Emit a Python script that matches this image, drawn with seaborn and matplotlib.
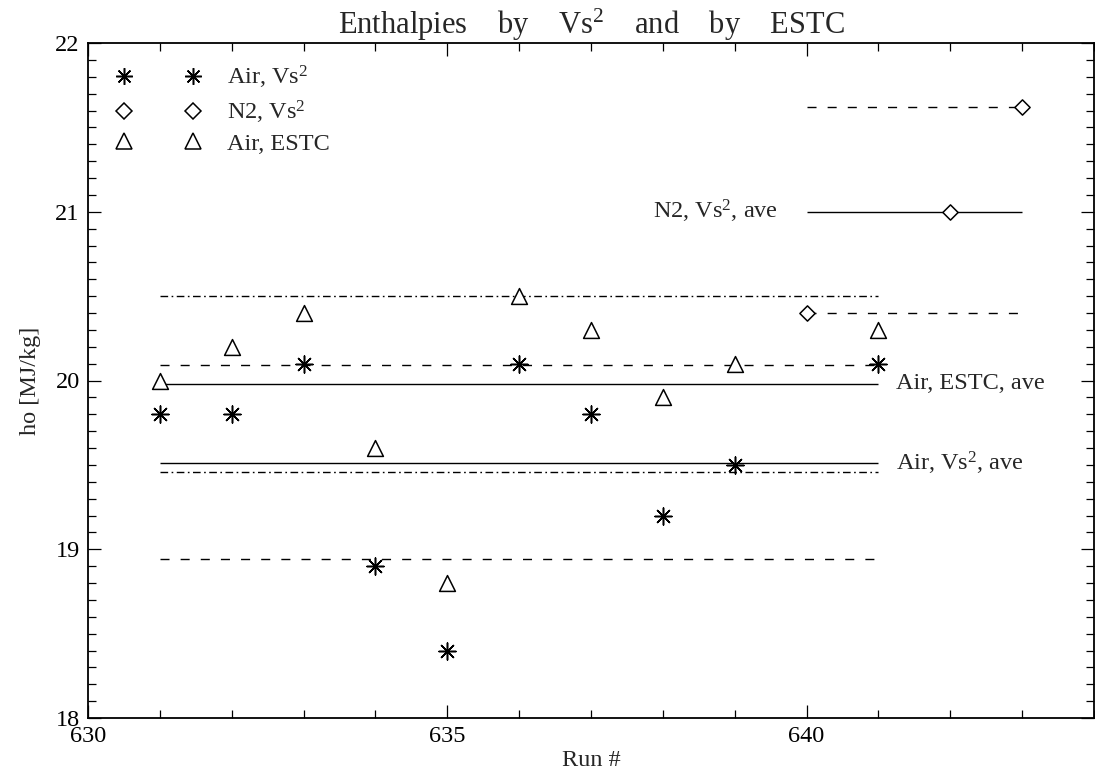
import numpy as np
import pandas as pd
import matplotlib
matplotlib.use('Agg')
import matplotlib.pyplot as plt
import seaborn as sns
from matplotlib.lines import Line2D
from matplotlib.ticker import MultipleLocator, FixedLocator

# ---------------- data ----------------
runs_air = [631, 632, 633, 634, 635, 636, 637, 638, 639, 641]
air_vs2 = [19.8, 19.8, 20.1, 18.9, 18.4, 20.1, 19.8, 19.2, 19.5, 20.1]
air_estc = [20.0, 20.2, 20.4, 19.6, 18.8, 20.5, 20.3, 19.9, 20.1, 20.3]
runs_n2 = [640, 642, 643]
n2_vs2 = [20.4, 21.0, 21.62]

air_vs2_ave = 19.51
air_vs2_band = [18.94, 20.09]
air_estc_ave = 19.98
air_estc_band = [19.46, 20.50]
n2_ave = 21.0
n2_band = [20.40, 21.62]
air_span = [631, 641]
n2_span = [640, 643]

x_ticks = [630, 635, 640]
y_ticks = [18, 19, 20, 21, 22]

# ---------------- style ----------------
sns.set_theme(style='ticks')
plt.rcParams['font.family'] = ['Liberation Serif', 'DejaVu Serif']
plt.rcParams['mathtext.fontset'] = 'custom'
plt.rcParams['mathtext.rm'] = 'Liberation Serif'
plt.rcParams['mathtext.it'] = 'Liberation Serif:italic'
plt.rcParams['mathtext.bf'] = 'Liberation Serif:bold'
plt.rcParams['lines.scale_dashes'] = False

FS = 17.5
fig = plt.figure(figsize=(10.95, 7.81), dpi=100)
ax = fig.add_axes([88 / 1095, 1 - 718 / 781, (1094 - 88) / 1095, (718 - 43) / 781])

df_air = pd.DataFrame({'run': runs_air, 'vs2': air_vs2, 'estc': air_estc})
df_n2 = pd.DataFrame({'run': runs_n2, 'vs2': n2_vs2})

# reference lines
dashed = (0, (6.5, 8))
dashdot = (0, (5.5, 2.5, 1.2, 2.5))
lw = 1.0
ax.hlines(air_vs2_ave, *air_span, colors='black', lw=lw, linestyles='solid')
ax.hlines(air_vs2_band, *air_span, colors='black', lw=lw, linestyles=[dashed])
ax.hlines(air_estc_ave, *air_span, colors='black', lw=lw, linestyles='solid')
ax.hlines(air_estc_band, *air_span, colors='black', lw=lw, linestyles=[dashdot])
ax.hlines(n2_ave, *n2_span, colors='black', lw=lw, linestyles='solid')
ax.hlines(n2_band, *n2_span, colors='black', lw=lw, linestyles=[dashed])

# points
ast = (8, 2, 0)
sns.scatterplot(data=df_air, x='run', y='vs2', marker=ast, s=150, color='black',
                edgecolor='black', linewidth=1.1, ax=ax, zorder=5)
sns.scatterplot(data=df_n2, x='run', y='vs2', marker='D', s=60, facecolor='white',
                edgecolor='black', linewidth=1.1, ax=ax, zorder=5)
sns.scatterplot(data=df_air, x='run', y='estc', marker='^', s=130, facecolor='white',
                edgecolor='black', linewidth=1.1, ax=ax, zorder=5)

# annotations
ax.text(639.6, n2_ave, r'N2, Vs$^2$, ave', ha='right', va='center', fontsize=FS)
ax.text(641.25, air_estc_ave, 'Air, ESTC, ave', ha='left', va='center', fontsize=FS)
ax.text(641.25, air_vs2_ave, r'Air, Vs$^2$, ave', ha='left', va='center', fontsize=FS)

# legend
handles = [
    Line2D([], [], ls='none', marker=ast, ms=12, mec='black', mfc='black', mew=1.1),
    Line2D([], [], ls='none', marker='D', ms=7.8, mec='black', mfc='white', mew=1.1),
    Line2D([], [], ls='none', marker='^', ms=11.5, mec='black', mfc='white', mew=1.1),
]
labels = [r'Air, Vs$^2$', r'N2, Vs$^2$', 'Air, ESTC']
em = FS * 100 / 72
ax.legend(handles, labels, numpoints=2, handlelength=69 / em + 0.6,
          handletextpad=27 / em,
          loc='upper left', bbox_to_anchor=((124 - 0.3 * em - 88) / 1006, 0.969),
          borderaxespad=0, borderpad=0, labelspacing=0.3, frameon=False, fontsize=FS)

# axes
ax.set_xlim(630, 644)
ax.set_ylim(18, 22)
ax.xaxis.set_major_locator(FixedLocator(x_ticks))
ax.xaxis.set_minor_locator(MultipleLocator(1))
ax.yaxis.set_major_locator(FixedLocator(y_ticks))
ax.yaxis.set_minor_locator(MultipleLocator(0.1))
ax.tick_params(which='both', direction='in', top=True, right=True, colors='black',
               labelsize=FS, width=0.9)
ax.tick_params(which='major', length=9.5, pad=6)
ax.tick_params(which='minor', length=5.5)
for sp in ax.spines.values():
    sp.set_linewidth(1.3)
    sp.set_color('black')

ax.set_xlabel('Run #', fontsize=FS, labelpad=2)
ax.set_ylabel('ho [MJ/kg]', fontsize=FS, labelpad=10)
ax.set_title(r'Enthalpies    by    Vs$^2$    and    by    ESTC', fontsize=22, pad=0)

fig.savefig('out.png', dpi=100, facecolor='white')
